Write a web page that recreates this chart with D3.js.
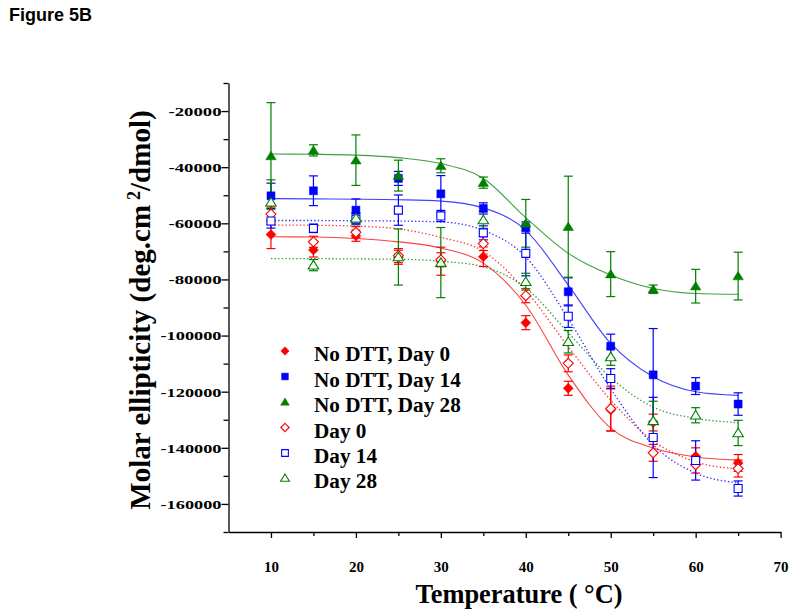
<!DOCTYPE html>
<html><head><meta charset="utf-8">
<script src="https://cdn.jsdelivr.net/npm/d3@7"></script>
<style>body{margin:0;background:#fff}</style>
</head><body>
<svg id="c" width="800" height="616"></svg>
<script>
// ---- data ----
const temps = [10,15,20,25,30,35,40,45,50,55,60,65];

const noDttDay0     = [-64000,-69500,-64400,-72100,-73500,-71900,-95400,-118800,-126500,-131000,-143000,-145400];
const noDttDay0Err  = [5000,2500,2000,2500,5000,3500,2500,2500,7500,3000,3000,3000];
const noDttDay14    = [-50200,-48400,-55300,-44000,-49500,-54700,-61500,-84400,-103800,-114000,-118000,-124400];
const noDttDay14Err = [4500,5300,4000,2500,6500,2000,2000,5000,4300,16500,3000,4000];
const noDttDay28    = [-36000,-34000,-37500,-43000,-39500,-45500,-60000,-61200,-78100,-83500,-82400,-78800];
const noDttDay28Err = [19000,2000,9000,5500,2500,2000,8500,18000,8000,1500,6000,8500];
const day0          = [-56700,-66600,-63200,-71500,-73000,-67200,-85800,-109900,-126000,-141800,-146000,-147400];
const day0Err       = [2500,2000,2000,2500,2500,2500,2500,3000,8000,3000,3000,3000];
const day14         = [-59200,-61800,-58500,-55300,-57400,-63400,-70700,-93100,-115300,-136300,-144500,-154500];
const day14Err      = [2500,1500,2000,5400,2000,2500,8000,4000,3500,14300,7000,2700];
const day28         = [-52500,-74900,-58200,-72000,-74000,-58800,-80800,-102200,-107600,-130400,-128400,-134700];
const day28Err      = [8000,2000,2000,10000,12500,3000,3000,4000,3000,7000,2700,4500];

// fitted curves at the same temperatures
const fitNoDtt0  = [-64800,-64900,-65400,-66600,-68800,-74200,-89200,-114100,-133000,-140100,-143300,-144400];
const fitNoDtt14 = [-51200,-51300,-51400,-51600,-52100,-54500,-62500,-82000,-102800,-114700,-120000,-121300];
const fitNoDtt28 = [-35300,-35400,-35700,-36600,-38700,-44000,-58000,-70700,-78400,-83200,-85000,-85300];
const fitDay0    = [-60600,-60700,-61000,-62000,-65000,-70000,-84000,-104000,-123000,-137500,-145000,-147500];
const fitDay14   = [-59000,-59000,-59100,-59200,-59500,-62500,-72000,-94000,-119000,-139000,-149000,-152500];
const fitDay28   = [-72600,-72600,-72700,-72800,-73500,-75500,-83000,-99000,-115000,-125500,-129500,-131000];

const seriesNames = ["No DTT, Day 0","No DTT, Day 14","No DTT, Day 28","Day 0","Day 14","Day 28"];
const xTicks = [10,20,30,40,50,60,70];
const xMinorTicks = [15,25,35,45,55,65];
const yTicks = [-20000,-40000,-60000,-80000,-100000,-120000,-140000,-160000];
const yMinorTicks = [-10000,-30000,-50000,-70000,-90000,-110000,-130000,-150000,-170000];

// ---- setup ----
const RED="#ff0000", BLUE="#0000ff", GREEN="#008000";
const series = [
  {name:seriesNames[0], v:noDttDay0,  e:noDttDay0Err,  fit:fitNoDtt0,  color:RED,   shape:"diamond",  filled:true},
  {name:seriesNames[1], v:noDttDay14, e:noDttDay14Err, fit:fitNoDtt14, color:BLUE,  shape:"square",   filled:true},
  {name:seriesNames[2], v:noDttDay28, e:noDttDay28Err, fit:fitNoDtt28, color:GREEN, shape:"triangle", filled:true},
  {name:seriesNames[3], v:day0,       e:day0Err,       fit:fitDay0,    color:RED,   shape:"diamond",  filled:false},
  {name:seriesNames[4], v:day14,      e:day14Err,      fit:fitDay14,   color:BLUE,  shape:"square",   filled:false},
  {name:seriesNames[5], v:day28,      e:day28Err,      fit:fitDay28,   color:GREEN, shape:"triangle", filled:false}
];

const svg = d3.select("#c");
const x = d3.scaleLinear().domain([5,70]).range([228.5,780.6]);
const y = d3.scaleLinear().domain([-170000,-10000]).range([532,83]);
const SERIF = "'Liberation Serif','Times New Roman',serif";

function shapePath(type, cx, cy, s){
  if(type==="diamond") return `M${cx},${cy-s}L${cx+s},${cy}L${cx},${cy+s}L${cx-s},${cy}Z`;
  if(type==="square"){ const h=s*0.8; return `M${cx-h},${cy-h}h${2*h}v${2*h}h${-2*h}Z`; }
  const h=s*0.95; return `M${cx},${cy-h}L${cx+s*1.05},${cy+h*0.8}L${cx-s*1.05},${cy+h*0.8}Z`;
}

// title
svg.append("text").attr("x",9).attr("y",21)
  .attr("font-family","'Liberation Sans',Arial,sans-serif").attr("font-weight","bold")
  .attr("font-size",18).text("Figure 5B");

// axes
const gx = svg.append("g").attr("transform","translate(0,532)")
  .call(d3.axisBottom(x).tickValues(xTicks).tickSize(6).tickSizeOuter(0).tickPadding(23).tickFormat(d=>String(d)));
svg.append("g").attr("transform","translate(0,532)")
  .call(d3.axisBottom(x).tickValues(xMinorTicks).tickSize(4).tickSizeOuter(0).tickFormat(""))
  .select(".domain").remove();
const gy = svg.append("g").attr("transform","translate(228.5,0)")
  .call(d3.axisLeft(y).tickValues(yTicks).tickSize(7).tickSizeOuter(0).tickPadding(0).tickFormat(d=>String(d)));
svg.append("g").attr("transform","translate(228.5,0)")
  .call(d3.axisLeft(y).tickValues(yMinorTicks).tickSize(5).tickSizeOuter(0).tickFormat(""))
  .select(".domain").remove();
svg.selectAll(".domain, .tick line").attr("stroke","#000").attr("stroke-width",1.3);
gx.selectAll("text").attr("font-family",SERIF).attr("font-weight","bold").attr("font-size",15).attr("fill","#000");
gy.selectAll("text").attr("font-family",SERIF).attr("font-weight","bold").attr("font-size",13.5).attr("fill","#000")
  .attr("textLength",function(d){return String(d).length===6?53:61;}).attr("lengthAdjust","spacingAndGlyphs");

// axis titles
svg.append("text").attr("x",519).attr("y",603).attr("text-anchor","middle")
  .attr("font-family",SERIF).attr("font-weight","bold").attr("font-size",28)
  .attr("textLength",207).attr("lengthAdjust","spacingAndGlyphs")
  .text("Temperature ( °C)");
const yt = svg.append("text").attr("transform","translate(150,310) rotate(-90)").attr("text-anchor","middle")
  .attr("font-family",SERIF).attr("font-weight","bold").attr("font-size",29);
yt.append("tspan").text("Molar ellipticity (deg.cm");
yt.append("tspan").attr("font-size",18).attr("dx",5).attr("dy",-10).text("2");
yt.append("tspan").attr("dy",10).text("/dmol)");

// fitted curves
const line = d3.line().x((d,i)=>x(temps[i])).y(d=>y(d)).curve(d3.curveMonotoneX);
series.forEach(s=>{
  svg.append("path").attr("d",line(s.fit)).attr("fill","none").attr("stroke",s.color)
    .attr("stroke-width",s.filled?1.1:1.3).attr("stroke-opacity",s.filled?0.75:0.8)
    .attr("stroke-dasharray",s.filled?null:"1.4,2.2");
});

// error bars
series.forEach(s=>{
  const g = svg.append("g").attr("stroke",s.color).attr("stroke-width",1.2);
  temps.forEach((t,i)=>{
    const cx=x(t), y1=y(s.v[i]+s.e[i]), y2=y(s.v[i]-s.e[i]);
    g.append("line").attr("x1",cx).attr("x2",cx).attr("y1",y1).attr("y2",y2);
    g.append("line").attr("x1",cx-4.5).attr("x2",cx+4.5).attr("y1",y1).attr("y2",y1);
    g.append("line").attr("x1",cx-4.5).attr("x2",cx+4.5).attr("y1",y2).attr("y2",y2);
  });
});

// markers: filled first, then open
series.forEach(s=>{
  temps.forEach((t,i)=>{
    svg.append("path").attr("d",shapePath(s.shape,x(t),y(s.v[i]),5))
      .attr("fill",s.filled?s.color:"#fff").attr("stroke",s.color).attr("stroke-width",s.filled?0.5:1.1);
  });
});

// legend
const legY = [361,386.5,412,437.5,463,488];
series.forEach((s,i)=>{
  svg.append("path").attr("d",shapePath(s.shape,285,legY[i]-10,4.2))
    .attr("fill",s.filled?s.color:"#fff").attr("stroke",s.color).attr("stroke-width",s.filled?0.5:1.1);
  svg.append("text").attr("x",314).attr("y",legY[i]).attr("font-family",SERIF).attr("font-weight","bold")
    .attr("font-size",21.2).text(s.name);
});
</script>
</body></html>
